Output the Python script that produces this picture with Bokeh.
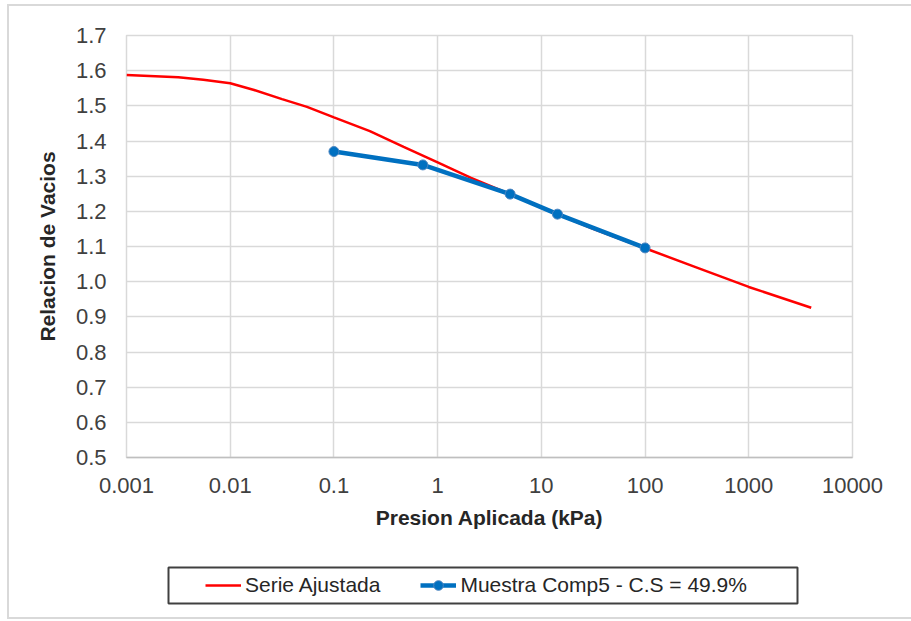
from bokeh.plotting import figure
from bokeh.layouts import column
from bokeh.models import FixedTicker, Legend, LegendItem, BoxAnnotation
from bokeh.embed import file_html
from bokeh.resources import INLINE

# ---- data ----
fit_x = [0.001, 0.00316, 0.0055, 0.01, 0.017, 0.0316, 0.055, 0.1, 0.222, 0.47, 1, 2.1, 5, 10, 15, 31.6, 100, 316, 1000, 4000]
fit_y = [1.588, 1.581, 1.574, 1.564, 1.545, 1.519, 1.497, 1.467, 1.428, 1.383, 1.339, 1.295, 1.249, 1.212, 1.189, 1.150, 1.095, 1.040, 0.985, 0.926]

sample_x = [0.1, 0.72, 5, 14.3, 100]
sample_y = [1.370, 1.332, 1.249, 1.192, 1.096]

x_ticks = [0.001, 0.01, 0.1, 1, 10, 100, 1000, 10000]
x_tick_labels = ["0.001", "0.01", "0.1", "1", "10", "100", "1000", "10000"]
y_ticks = [0.5, 0.6, 0.7, 0.8, 0.9, 1.0, 1.1, 1.2, 1.3, 1.4, 1.5, 1.6, 1.7]
y_tick_labels = ["0.5", "0.6", "0.7", "0.8", "0.9", "1.0", "1.1", "1.2", "1.3", "1.4", "1.5", "1.6", "1.7"]

series_names = ["Serie Ajustada", "Muestra Comp5 - C.S = 49.9%"]
x_title = "Presion Aplicada (kPa)"
y_title = "Relacion de Vacios"

FONT = "Liberation Sans"
RED = "#ff0000"
BLUE = "#0070c0"

# ---------------- main chart ----------------
p = figure(
    x_axis_type="log", x_range=(0.001, 10000), y_range=(0.5, 1.7),
    width=902, height=545,
    min_border_left=117, min_border_right=59, min_border_top=29, min_border_bottom=94,
    output_backend="svg", toolbar_location=None,
    background_fill_color="white", border_fill_color="white",
)
p.outline_line_color = "#d9d9d9"
p.outline_line_width = 1.5

for ax in (p.xaxis[0], p.yaxis[0]):
    ax.major_tick_line_color = None
    ax.minor_tick_line_color = None
    ax.major_tick_out = 0
    ax.major_tick_in = 0
    ax.minor_tick_out = 0
    ax.minor_tick_in = 0
    ax.major_label_text_font = FONT
    ax.major_label_text_font_size = "22px"
    ax.major_label_text_color = "#404040"
    ax.axis_label_text_font = FONT
    ax.axis_label_text_font_size = "21px"
    ax.axis_label_text_font_style = "bold"
    ax.axis_label_text_color = "#262626"

p.xaxis.ticker = FixedTicker(ticks=x_ticks)
p.xaxis.major_label_overrides = dict(zip(x_ticks, x_tick_labels))
p.xaxis.axis_line_color = "#bfbfbf"
p.xaxis.axis_line_width = 1.5
p.xaxis.major_label_standoff = 20
p.xaxis.axis_label = x_title
p.xaxis.axis_label_standoff = 10

p.yaxis.ticker = FixedTicker(ticks=y_ticks)
p.yaxis.major_label_overrides = dict(zip(y_ticks, y_tick_labels))
p.yaxis.axis_line_color = None
p.yaxis.major_label_standoff = 20
p.yaxis.axis_label = y_title
p.yaxis.axis_label_standoff = 14

p.xgrid.ticker = FixedTicker(ticks=x_ticks)
p.ygrid.ticker = FixedTicker(ticks=y_ticks)
for g in (p.xgrid[0], p.ygrid[0]):
    g.grid_line_color = "#d9d9d9"
    g.grid_line_width = 1.5

p.line(fit_x, fit_y, line_color=RED, line_width=2.5)
p.line(sample_x, sample_y, line_color=BLUE, line_width=4.5)
p.scatter(sample_x, sample_y, size=10, fill_color=BLUE, line_color="#4f86c0", line_width=1)

# ---------------- legend strip (below the chart) ----------------
# its frame is aligned with the main frame by the column layout (726 px wide)
pl = figure(
    width=902, height=66, x_range=(0, 726), y_range=(100, 166),
    min_border=0, min_border_left=0, min_border_right=0, min_border_top=0, min_border_bottom=0,
    x_axis_location=None, y_axis_location=None,
    output_backend="svg", toolbar_location=None,
    background_fill_color="white", border_fill_color="white",
)
pl.outline_line_color = None
pl.xgrid.visible = False
pl.ygrid.visible = False

# same series, lying outside this strip's ranges, only to feed the legend glyphs
l_fit = pl.line(fit_x, fit_y, line_color=RED, line_width=2.5)
l_line = pl.line(sample_x, sample_y, line_color=BLUE, line_width=4.5)
l_pts = pl.scatter(sample_x, sample_y, size=10, fill_color=BLUE, line_color="#4f86c0", line_width=1)

pl.add_layout(BoxAnnotation(left=42, right=671, bottom=114, top=150,
                            fill_alpha=0, line_color="#404040", line_alpha=1.0, line_width=2))

legend = Legend(
    items=[LegendItem(label=series_names[0], renderers=[l_fit]),
           LegendItem(label=series_names[1], renderers=[l_line, l_pts])],
    orientation="horizontal",
    location=(79, 20),
    margin=0, padding=0, spacing=40,
    glyph_width=36, glyph_height=24, label_height=24, label_standoff=4,
    border_line_alpha=0, background_fill_alpha=0,
    label_text_font=FONT, label_text_font_size="21px", label_text_color="#262626",
)
pl.add_layout(legend, "center")

layout = column(p, pl, spacing=0)
layout.margin = (4, 0, 0, 7)
layout.styles = {"border-left": "2px solid #d9d9d9", "border-top": "2px solid #d9d9d9",
                 "border-bottom": "2px solid #d9d9d9"}

open("out.html", "w").write(file_html(layout, INLINE))
